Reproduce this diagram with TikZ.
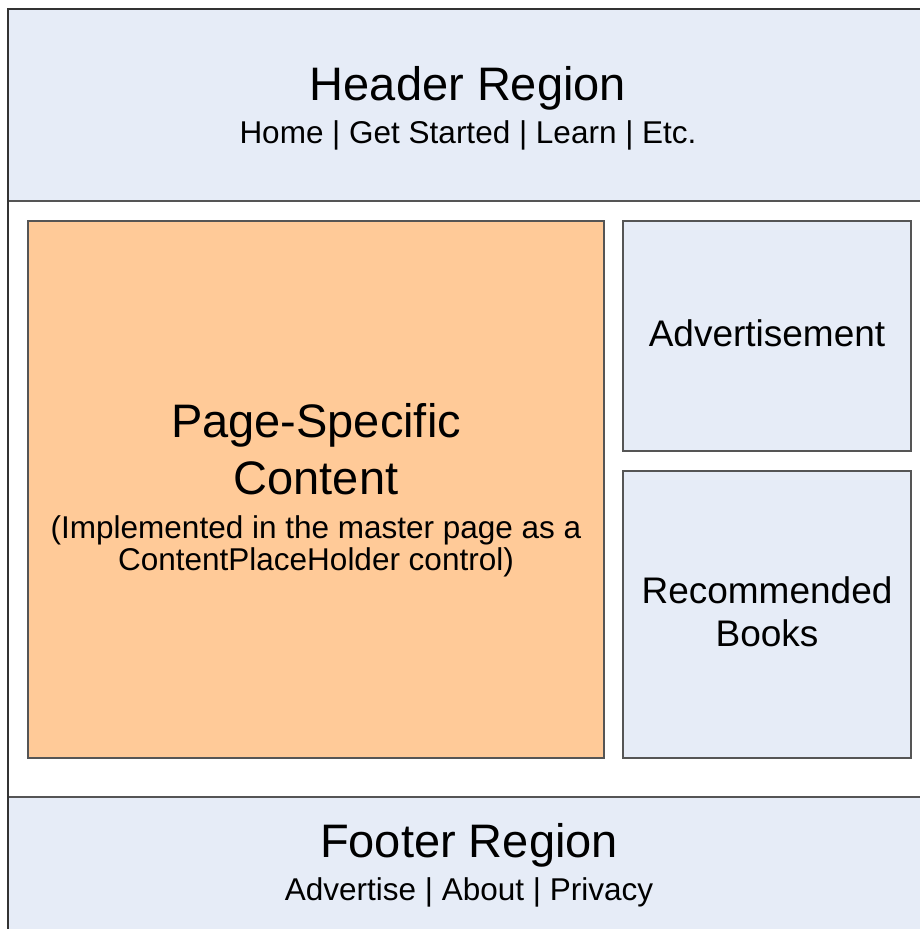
\documentclass[tikz,border=0pt]{standalone}
\usepackage{fontspec}
\setmainfont{Liberation Sans}
\definecolor{paleblue}{RGB}{230,236,247}
\definecolor{peach}{RGB}{255,202,152}
\definecolor{edge}{RGB}{85,85,85}
\begin{document}
\begin{tikzpicture}[x=1pt,y=-1pt,
    region/.style={fill=paleblue,draw=edge,line width=1.6pt},
    big/.style={anchor=base,font=\fontsize{47}{56}\selectfont},
    side/.style={anchor=base,font=\fontsize{37}{43}\selectfont},
    small/.style={anchor=base,font=\fontsize{31.5}{34}\selectfont}]
  \useasboundingbox (0,0) rectangle (920,929);
  \clip (0,0) rectangle (920,929);
  % page frame, header and footer
  \fill[white] (8,9) rectangle (930,940);
  \draw[region] (8,9) rectangle (930,201);
  \draw[region] (8,797) rectangle (930,940);
  \draw[draw=black!80,line width=1.8pt] (930,9) -- (8,9) -- (8,940);
  % inner boxes
  \draw[fill=peach,draw=edge,line width=1.6pt] (28,221) rectangle (604,758);
  \draw[region] (623,221) rectangle (911,451);
  \draw[region] (623,471) rectangle (911,758);
  % texts
  \node[big] (head) at (468,100) {Header Region};
  \node[small] (menu) at (468,143) {Home | Get Started | Learn | Etc.};
  \node[big] (page) at (316,437) {Page-Specific};
  \node[big] (cont) at (316,494) {Content};
  \node[small] (impl) at (316,538) {(Implemented in the master page as a};
  \node[small] (cph) at (316,570) {ContentPlaceHolder control)};
  \node[side] (ad) at (767,346) {Advertisement};
  \node[side] (rec) at (767,603) {Recommended};
  \node[side] (books) at (767,646) {Books};
  \node[big] (foot) at (469,857) {Footer Region};
  \node[small] (links) at (469,900) {Advertise | About | Privacy};
\end{tikzpicture}
\end{document}
